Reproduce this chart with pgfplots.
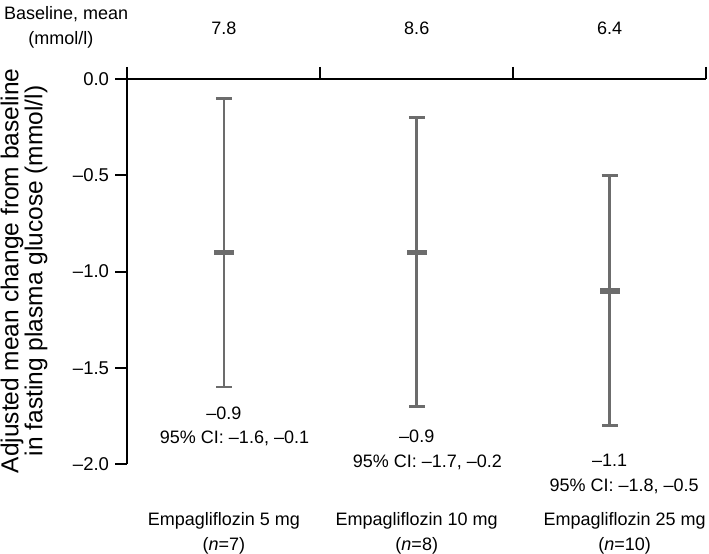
\documentclass[border=0pt]{standalone}
\usepackage{fontspec}
\setmainfont{Liberation Sans}
\usepackage{pgfplots}
\pgfplotsset{compat=1.18}
\definecolor{bargray}{RGB}{108,108,108}
\begin{document}
\begin{tikzpicture}[font=\fontsize{18bp}{24bp}\selectfont]
\begin{axis}[
  scale only axis, width=578.5bp, height=385bp,
  xmin=0, xmax=3, ymin=-2, ymax=0,
  axis x line=top, axis y line=left,
  axis line style={-, line width=2bp, black},
  xtick={0,1,2,3}, xticklabels={},
  ytick={-2,-1.5,-1,-0.5,0},
  yticklabels={–2.0,–1.5,–1.0,–0.5,0.0},
  yticklabel style={font=\fontsize{18.5bp}{24bp}\selectfont, xshift=-3bp},
  tick align=outside, major tick length=12bp,
  tick style={line width=2bp, black},
  clip=false,
]
\addplot[bargray, only marks, mark=-, mark size=10bp, mark options={line width=5.5bp, bargray},
  error bars/.cd, y dir=both, y explicit,
  error bar style={line width=2.8bp, bargray},
  error mark options={bargray, line width=2.8bp, mark size=8bp, rotate=90}]
  coordinates {
  (0.5,-0.9) += (0,0.8) -= (0,0.7)
  (1.5,-0.9) += (0,0.7) -= (0,0.8)
  (2.5,-1.1) += (0,0.6) -= (0,0.7)
  };
\node[anchor=base] at (axis cs:0.5,-1.767) {–0.9};
\node[anchor=base] at (axis cs:0.555,-1.892) {95\% CI: –1.6, –0.1};
\node[anchor=base] at (axis cs:1.5,-1.887) {–0.9};
\node[anchor=base] at (axis cs:1.555,-2.017) {95\% CI: –1.7, –0.2};
\node[anchor=base] at (axis cs:2.5,-2.012) {–1.1};
\node[anchor=base] at (axis cs:2.575,-2.141) {95\% CI: –1.8, –0.5};
\node[anchor=base] at (axis cs:0.5,-2.322) {Empagliflozin 5 mg};
\node[anchor=base] at (axis cs:0.5,-2.448) {(\textit{n}=7)};
\node[anchor=base] at (axis cs:1.5,-2.322) {Empagliflozin 10 mg};
\node[anchor=base] at (axis cs:1.5,-2.448) {(\textit{n}=8)};
\node[anchor=base] at (axis cs:2.578,-2.322) {Empagliflozin 25 mg};
\node[anchor=base] at (axis cs:2.578,-2.448) {(\textit{n}=10)};
\node[anchor=base] at (axis cs:0.5,0.230) {7.8};
\node[anchor=base] at (axis cs:1.5,0.230) {8.6};
\node[anchor=base] at (axis cs:2.5,0.230) {6.4};
\node[anchor=base] at (axis cs:-0.318,0.308) {Baseline, mean};
\node[anchor=base] at (axis cs:-0.345,0.178) {(mmol/l)};
\node[align=center, rotate=90, font=\fontsize{24.5bp}{24bp}\selectfont] at (axis cs:-0.536,-0.997) {Adjusted mean change from baseline\\in fasting plasma glucose (mmol/l)};
\coordinate (ll) at (rel axis cs:0,0);
\coordinate (ur) at (rel axis cs:1,1);
\end{axis}
\pgfresetboundingbox
\useasboundingbox ([xshift=-127.5bp,yshift=-90bp]ll) rectangle ([xshift=3bp,yshift=79bp]ur);
\end{tikzpicture}
\end{document}
